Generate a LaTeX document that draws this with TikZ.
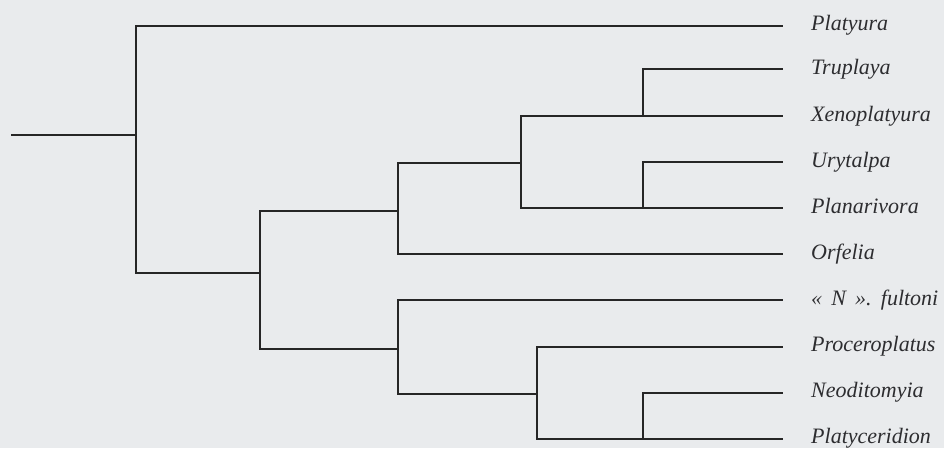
\documentclass[tikz,border=0pt]{standalone}
\usepackage{fontspec}
\setmainfont{Liberation Serif}
\definecolor{bgc}{RGB}{233,235,237}
\definecolor{inkc}{RGB}{38,38,38}
\definecolor{txtc}{RGB}{45,45,48}
\begin{document}
\begin{tikzpicture}[x=1pt,y=-1pt,
  branch/.style={draw=inkc,line width=2pt,line cap=rect},
  lab/.style={anchor=base west,inner sep=0pt,text=txtc,font=\fontsize{22}{24}\selectfont\itshape}]
\fill[bgc] (0,0) rectangle (944,448);
\useasboundingbox (0,0) rectangle (944,448);
% leaf labels
\node[lab] (l1) at (811,30.5) {Platyura};
\node[lab] (l2) at (811,74) {Truplaya};
\node[lab] (l3) at (811,121) {Xenoplatyura};
\node[lab] (l4) at (811,167) {Urytalpa};
\node[lab] (l5) at (811,213) {Planarivora};
\node[lab] (l6) at (811,259) {Orfelia};
\node[lab] (l7) at (811,305) {«~\,N~\,». \,fultoni};
\node[lab] (l8) at (811,351.5) {Proceroplatus};
\node[lab] (l9) at (811,397.5) {Neoditomyia};
\node[lab] (l10) at (811,443.5) {Platyceridion};
% tips
\coordinate (t1) at (782,25.5);
\coordinate (t2) at (782,69);
\coordinate (t3) at (782,116);
\coordinate (t4) at (782,162);
\coordinate (t5) at (782,208);
\coordinate (t6) at (782,254);
\coordinate (t7) at (782,300);
\coordinate (t8) at (782,346.5);
\coordinate (t9) at (782,392.5);
\coordinate (t10) at (782,439);
% internal nodes
\coordinate (root) at (12,135);
\coordinate (n1) at (136,135);
\coordinate (n2) at (259.5,273);
\coordinate (n3) at (398,211);
\coordinate (n4) at (521,163);
\coordinate (n5) at (643,116);
\coordinate (n6) at (643,208);
\coordinate (n7) at (398,349);
\coordinate (n8) at (536.5,394);
\coordinate (n9) at (643,439);
% branches
\draw[branch] (root) -- (n1);
\draw[branch] (n1) |- (t1);
\draw[branch] (n1) |- (n2);
\draw[branch] (n2) |- (n3);
\draw[branch] (n2) |- (n7);
\draw[branch] (n3) |- (n4);
\draw[branch] (n3) |- (t6);
\draw[branch] (n4) |- (t3);
\draw[branch] (n4) |- (t5);
\draw[branch] (n5) |- (t2);
\draw[branch] (n6) |- (t4);
\draw[branch] (n7) |- (t7);
\draw[branch] (n7) |- (n8);
\draw[branch] (n8) |- (t8);
\draw[branch] (n8) |- (t10);
\draw[branch] (n9) |- (t9);
\end{tikzpicture}
\end{document}
